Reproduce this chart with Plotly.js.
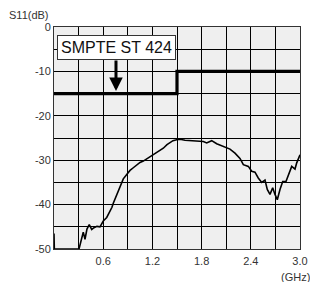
<!DOCTYPE html>
<html><head><meta charset="utf-8">
<script src="https://cdn.plot.ly/plotly-3.0.1.min.js"></script>
<style>html,body{margin:0;padding:0;background:#fff}#c{width:310px;height:282px}</style>
</head><body><div id="c"></div>
<script>
const freqGHz = [0,0.004,0.305,0.338,0.357,0.378,0.402,0.430,0.460,0.488,0.524,0.561,0.601,0.643,0.683,0.707,0.723,0.765,0.805,0.845,0.887,0.927,0.967,1.009,1.049,1.089,1.131,1.171,1.232,1.293,1.333,1.378,1.415,1.451,1.496,1.537,1.598,1.659,1.720,1.780,1.821,1.862,1.923,1.984,2.024,2.065,2.106,2.146,2.207,2.268,2.309,2.341,2.370,2.411,2.451,2.491,2.533,2.573,2.601,2.634,2.667,2.695,2.723,2.756,2.789,2.829,2.870,2.899,2.939,2.960,3.0];
const s11dB = [-46.5,-50,-50,-47.3,-46.2,-47.8,-45.5,-44.5,-45.6,-45.2,-44.9,-45.0,-43.7,-42.9,-41.5,-40.6,-39.7,-37.8,-36.2,-34.2,-33.2,-32.3,-31.7,-31.0,-30.5,-30.2,-29.7,-29.4,-28.6,-27.8,-27.3,-26.5,-26.0,-25.6,-25.4,-25.3,-25.5,-25.6,-25.6,-25.7,-25.8,-26.1,-25.6,-26.3,-26.6,-26.9,-27.2,-27.5,-28.4,-29.6,-31.0,-31.2,-31.4,-32.5,-32.7,-34.0,-35.0,-34.5,-36.6,-37.7,-36.2,-37.7,-38.9,-36.6,-34.8,-34.8,-32.9,-31.4,-32.0,-30.6,-28.8];
const maskGHz = [0,1.5,1.5,3.0];
const maskdB = [-15,-15,-10,-10];
const xTickVals = [0.3,0.6,0.9,1.2,1.5,1.8,2.1,2.4,2.7,3.0];
const xTickText = ['','0.6','','1.2','','1.8','','2.4','','3.0'];
const yTickVals = [-50,-45,-40,-35,-30,-25,-20,-15,-10,-5,0];
const yTickText = ['-50','','-40','','-30','','-20','','-10','','0'];
const maskLabel = 'SMPTE ST 424';

const font = {family:'Liberation Sans, Arial, sans-serif', size:11, color:'#333'};
const traces = [
  {x:freqGHz, y:s11dB, mode:'lines', line:{color:'#000', width:1.6}, hoverinfo:'skip'},
  {x:maskGHz, y:maskdB, mode:'lines', line:{color:'#000', width:3.2}, hoverinfo:'skip'}
];
const layout = {
  width:310, height:282, showlegend:false,
  margin:{l:54, r:10, t:27, b:33},
  paper_bgcolor:'#fff', plot_bgcolor:'#efefef', font:font,
  xaxis:{range:[0,3], tickmode:'array', tickvals:xTickVals, ticktext:xTickText,
    showgrid:true, gridcolor:'#000', gridwidth:1, zeroline:false,
    showline:true, linecolor:'#333', linewidth:1, mirror:true, ticks:'outside', ticklen:2, tickcolor:'rgba(0,0,0,0)',
    tickfont:font, fixedrange:true},
  yaxis:{range:[-50,0], tickmode:'array', tickvals:yTickVals, ticktext:yTickText,
    showgrid:true, gridcolor:'#000', gridwidth:1, zeroline:false,
    showline:true, linecolor:'#333', linewidth:1, mirror:true, ticks:'', ticklen:0,
    tickfont:font, fixedrange:true},
  annotations:[
    {xref:'paper', yref:'paper', x:-0.1, y:1.0, yshift:12, xanchor:'center', yanchor:'middle',
      text:'S11(dB)', showarrow:false, font:font},
    {xref:'paper', yref:'paper', x:0.98, y:0, yshift:-28, xanchor:'center', yanchor:'middle',
      text:'(GHz)', showarrow:false, font:font},
    {x:0.768, y:-4.66, text:maskLabel, showarrow:false, bgcolor:'#fff', bordercolor:'#333',
      borderwidth:1, borderpad:3, font:{family:'Liberation Sans, Arial, sans-serif', size:16, color:'#111'}},
    {x:0.756, y:-14.4, ax:0.756, ay:-7.2, axref:'x', ayref:'y', text:'', showarrow:true,
      arrowhead:2, arrowsize:0.9, arrowwidth:3, arrowcolor:'#000'}
  ]
};
Plotly.newPlot('c', traces, layout, {displayModeBar:false, staticPlot:true});
</script></body></html>
